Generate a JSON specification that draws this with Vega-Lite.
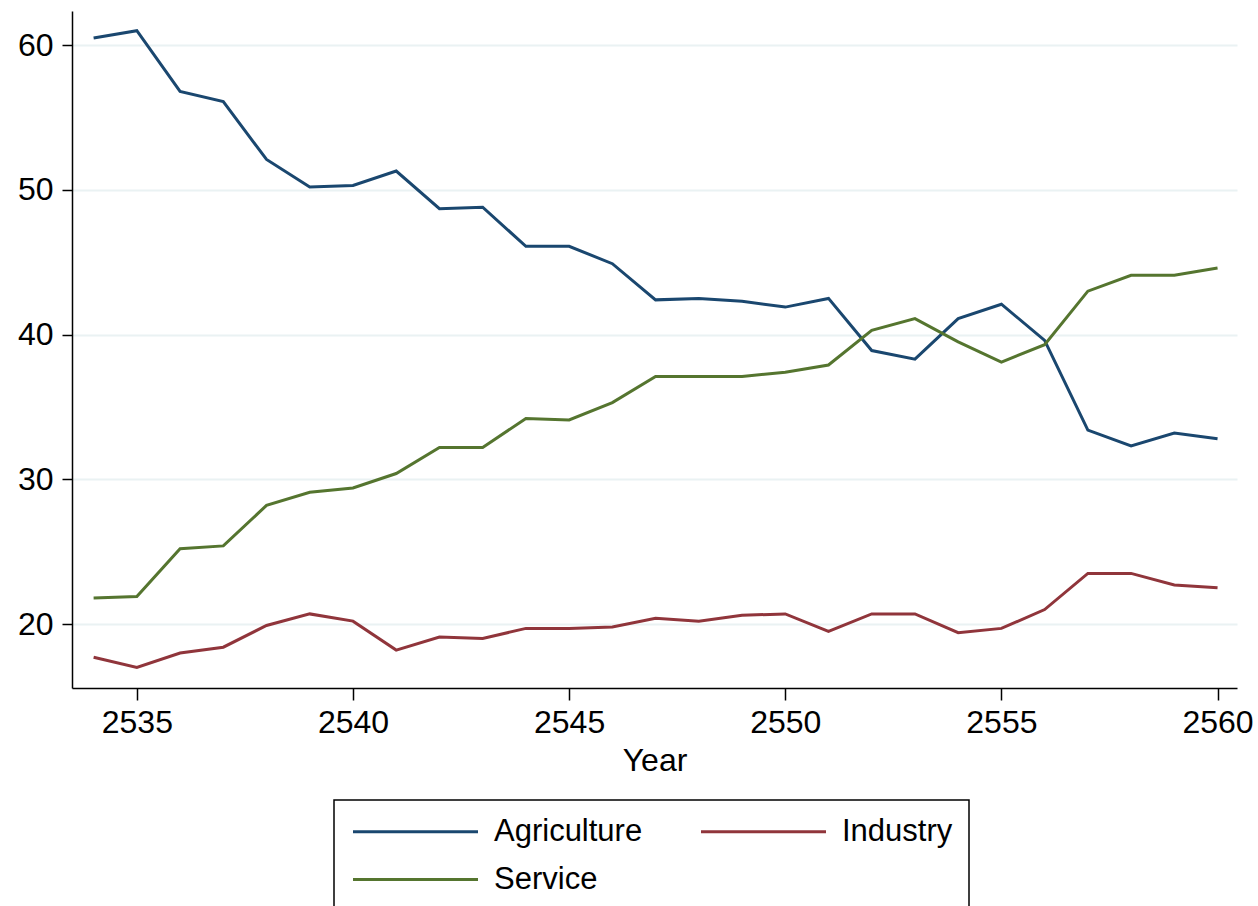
{
  "$schema": "https://vega.github.io/schema/vega-lite/v6.json",
  "width": 1165,
  "height": 677,
  "autosize": {"type": "none"},
  "padding": {"left": 72, "top": 11, "right": 21, "bottom": 218},
  "background": "white",
  "config": {
    "view": {"stroke": null},
    "font": "Liberation Sans",
    "axis": {"labelFont": "Liberation Sans", "titleFont": "Liberation Sans", "labelColor": "black", "titleColor": "black", "labelFontSize": 32, "titleFontSize": 32, "titleFontWeight": "normal", "domainColor": "black", "domainWidth": 1.5, "tickColor": "black", "tickWidth": 1.5}
  },
  "data": {
    "values": [
      {"year": 2534, "sector": "Agriculture", "value": 60.5},
      {"year": 2535, "sector": "Agriculture", "value": 61.0},
      {"year": 2536, "sector": "Agriculture", "value": 56.8},
      {"year": 2537, "sector": "Agriculture", "value": 56.1},
      {"year": 2538, "sector": "Agriculture", "value": 52.1},
      {"year": 2539, "sector": "Agriculture", "value": 50.2},
      {"year": 2540, "sector": "Agriculture", "value": 50.3},
      {"year": 2541, "sector": "Agriculture", "value": 51.3},
      {"year": 2542, "sector": "Agriculture", "value": 48.7},
      {"year": 2543, "sector": "Agriculture", "value": 48.8},
      {"year": 2544, "sector": "Agriculture", "value": 46.1},
      {"year": 2545, "sector": "Agriculture", "value": 46.1},
      {"year": 2546, "sector": "Agriculture", "value": 44.9},
      {"year": 2547, "sector": "Agriculture", "value": 42.4},
      {"year": 2548, "sector": "Agriculture", "value": 42.5},
      {"year": 2549, "sector": "Agriculture", "value": 42.3},
      {"year": 2550, "sector": "Agriculture", "value": 41.9},
      {"year": 2551, "sector": "Agriculture", "value": 42.5},
      {"year": 2552, "sector": "Agriculture", "value": 38.9},
      {"year": 2553, "sector": "Agriculture", "value": 38.3},
      {"year": 2554, "sector": "Agriculture", "value": 41.1},
      {"year": 2555, "sector": "Agriculture", "value": 42.1},
      {"year": 2556, "sector": "Agriculture", "value": 39.6},
      {"year": 2557, "sector": "Agriculture", "value": 33.4},
      {"year": 2558, "sector": "Agriculture", "value": 32.3},
      {"year": 2559, "sector": "Agriculture", "value": 33.2},
      {"year": 2560, "sector": "Agriculture", "value": 32.8},
      {"year": 2534, "sector": "Industry", "value": 17.7},
      {"year": 2535, "sector": "Industry", "value": 17.0},
      {"year": 2536, "sector": "Industry", "value": 18.0},
      {"year": 2537, "sector": "Industry", "value": 18.4},
      {"year": 2538, "sector": "Industry", "value": 19.9},
      {"year": 2539, "sector": "Industry", "value": 20.7},
      {"year": 2540, "sector": "Industry", "value": 20.2},
      {"year": 2541, "sector": "Industry", "value": 18.2},
      {"year": 2542, "sector": "Industry", "value": 19.1},
      {"year": 2543, "sector": "Industry", "value": 19.0},
      {"year": 2544, "sector": "Industry", "value": 19.7},
      {"year": 2545, "sector": "Industry", "value": 19.7},
      {"year": 2546, "sector": "Industry", "value": 19.8},
      {"year": 2547, "sector": "Industry", "value": 20.4},
      {"year": 2548, "sector": "Industry", "value": 20.2},
      {"year": 2549, "sector": "Industry", "value": 20.6},
      {"year": 2550, "sector": "Industry", "value": 20.7},
      {"year": 2551, "sector": "Industry", "value": 19.5},
      {"year": 2552, "sector": "Industry", "value": 20.7},
      {"year": 2553, "sector": "Industry", "value": 20.7},
      {"year": 2554, "sector": "Industry", "value": 19.4},
      {"year": 2555, "sector": "Industry", "value": 19.7},
      {"year": 2556, "sector": "Industry", "value": 21.0},
      {"year": 2557, "sector": "Industry", "value": 23.5},
      {"year": 2558, "sector": "Industry", "value": 23.5},
      {"year": 2559, "sector": "Industry", "value": 22.7},
      {"year": 2560, "sector": "Industry", "value": 22.5},
      {"year": 2534, "sector": "Service", "value": 21.8},
      {"year": 2535, "sector": "Service", "value": 21.9},
      {"year": 2536, "sector": "Service", "value": 25.2},
      {"year": 2537, "sector": "Service", "value": 25.4},
      {"year": 2538, "sector": "Service", "value": 28.2},
      {"year": 2539, "sector": "Service", "value": 29.1},
      {"year": 2540, "sector": "Service", "value": 29.4},
      {"year": 2541, "sector": "Service", "value": 30.4},
      {"year": 2542, "sector": "Service", "value": 32.2},
      {"year": 2543, "sector": "Service", "value": 32.2},
      {"year": 2544, "sector": "Service", "value": 34.2},
      {"year": 2545, "sector": "Service", "value": 34.1},
      {"year": 2546, "sector": "Service", "value": 35.3},
      {"year": 2547, "sector": "Service", "value": 37.1},
      {"year": 2548, "sector": "Service", "value": 37.1},
      {"year": 2549, "sector": "Service", "value": 37.1},
      {"year": 2550, "sector": "Service", "value": 37.4},
      {"year": 2551, "sector": "Service", "value": 37.9},
      {"year": 2552, "sector": "Service", "value": 40.3},
      {"year": 2553, "sector": "Service", "value": 41.1},
      {"year": 2554, "sector": "Service", "value": 39.5},
      {"year": 2555, "sector": "Service", "value": 38.1},
      {"year": 2556, "sector": "Service", "value": 39.3},
      {"year": 2557, "sector": "Service", "value": 43.0},
      {"year": 2558, "sector": "Service", "value": 44.1},
      {"year": 2559, "sector": "Service", "value": 44.1},
      {"year": 2560, "sector": "Service", "value": 44.6}
    ]
  },
  "mark": {"type": "line", "strokeWidth": 3, "clip": true},
  "encoding": {
    "x": {
      "field": "year", "type": "quantitative",
      "scale": {"domain": [2533.5, 2560.45], "nice": false, "zero": false},
      "axis": {"title": "Year", "values": [2535, 2540, 2545, 2550, 2555, 2560], "format": "d", "grid": false, "tickSize": 12, "labelPadding": 7, "titlePadding": 7, "labelFlush": false, "labelOverlap": false}
    },
    "y": {
      "field": "value", "type": "quantitative",
      "scale": {"domain": [15.58, 62.36], "nice": false, "zero": false},
      "axis": {"title": null, "values": [20, 30, 40, 50, 60], "grid": true, "gridColor": "#eaf2f3", "gridWidth": 2, "tickSize": 10, "labelPadding": 9, "labelFlush": false, "labelOverlap": false}
    },
    "color": {
      "field": "sector", "type": "nominal",
      "scale": {"domain": ["Agriculture", "Industry", "Service"], "range": ["#1a476f", "#90353b", "#55752f"]},
      "legend": {
        "title": null, "orient": "none", "legendX": 262, "legendY": 789,
        "columns": 2, "direction": "horizontal",
        "symbolType": "M-1,0H9", "symbolSize": 625, "symbolStrokeWidth": 3,
        "labelFont": "Liberation Sans", "labelFontSize": 31, "labelColor": "black", "labelOffset": 113,
        "columnPadding": 52, "rowPadding": 16, "padding": 16,
        "strokeColor": "black", "fillColor": "white",
        "encode": {"legend": {"update": {"strokeWidth": {"value": 1.5}}}}
      }
    }
  }
}
